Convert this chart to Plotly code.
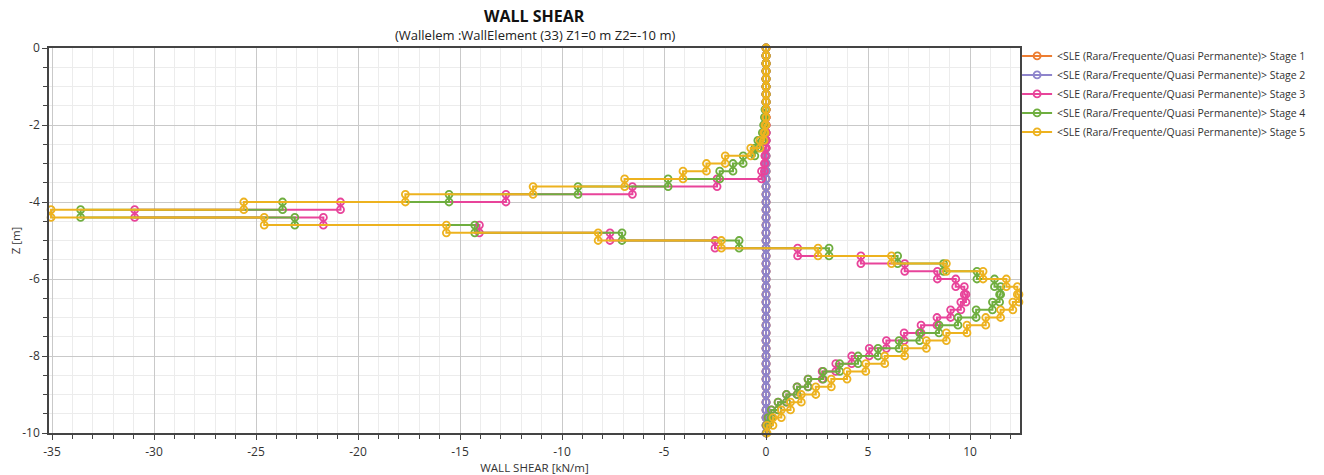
import plotly.graph_objects as go

# Element boundaries (z, m): element k spans Z_NODES[k] -> Z_NODES[k+1]
Z_NODES = [0.0, -0.2, -0.4, -0.6, -0.8, -1.0, -1.2, -1.4, -1.6, -1.8,
           -2.0, -2.2, -2.4, -2.6, -2.8, -3.0, -3.2, -3.4, -3.6, -3.8,
           -4.0, -4.2, -4.4, -4.6, -4.8, -5.0, -5.2, -5.4, -5.6, -5.8,
           -6.0, -6.2, -6.4, -6.6, -6.8, -7.0, -7.2, -7.4, -7.6, -7.8,
           -8.0, -8.2, -8.4, -8.6, -8.8, -9.0, -9.2, -9.4, -9.6, -9.8, -10.0]

# Wall shear per element [kN/m]
STAGE1 = [0.0] * 50
STAGE2 = [0.0] * 50
STAGE3 = [0, 0, 0, 0, 0, 0, 0, 0, 0, 0,
          0, 0, 0, -0.05, -0.05, -0.08, -0.22, -2.4, -6.55, -12.75,
          -20.86, -30.95, -21.7, -14.05, -7.65, -2.5, 1.55, 4.65, 6.8, 8.4,
          9.3, 9.72, 9.8, 9.55, 9.05, 8.38, 7.6, 6.77, 5.9, 5.06,
          4.2, 3.42, 2.75, 2.06, 1.52, 1.0, 0.59, 0.26, 0.1, 0.02]
STAGE4 = [0, 0, 0, 0, 0, 0, 0, 0, -0.05, -0.08,
          -0.12, -0.18, -0.4, -0.55, -1.12, -1.62, -2.27, -4.8, -9.22, -15.54,
          -23.7, -33.6, -23.1, -14.28, -7.06, -1.32, 3.09, 6.45, 8.7, 10.34,
          11.2, 11.5, 11.45, 11.1, 10.3, 9.41, 8.48, 7.53, 6.52, 5.49,
          4.51, 3.61, 2.8, 2.06, 1.52, 1.0, 0.59, 0.26, 0.1, 0.02]
STAGE5 = [0, 0, 0, 0, 0, 0, 0, 0, 0, 0,
          -0.05, -0.1, -0.3, -0.75, -2.0, -2.92, -4.07, -6.93, -11.42, -17.68,
          -25.6, -35.05, -24.6, -15.67, -8.23, -2.19, 2.55, 6.15, 8.84, 10.64,
          11.78, 12.32, 12.4, 12.1, 11.5, 10.77, 9.85, 8.84, 7.86, 6.8,
          5.82, 4.89, 3.97, 3.2, 2.44, 1.73, 1.2, 0.75, 0.34, 0.05]

SERIES_NAMES = ["&lt;SLE (Rara/Frequente/Quasi Permanente)&gt; Stage 1",
                "&lt;SLE (Rara/Frequente/Quasi Permanente)&gt; Stage 2",
                "&lt;SLE (Rara/Frequente/Quasi Permanente)&gt; Stage 3",
                "&lt;SLE (Rara/Frequente/Quasi Permanente)&gt; Stage 4",
                "&lt;SLE (Rara/Frequente/Quasi Permanente)&gt; Stage 5"]
COLORS = ["#ED7D31", "#8E84CC", "#E8449A", "#6FAE3F", "#EDB21F"]

X_TICKS = [-35, -30, -25, -20, -15, -10, -5, 0, 5, 10]
Y_TICKS = [0, -2, -4, -6, -8, -10]


def step_xy(values):
    xs, zs = [], []
    for k, v in enumerate(values):
        xs += [v, v]
        zs += [Z_NODES[k], Z_NODES[k + 1]]
    return xs, zs


FONT = "Open Sans"
fig = go.Figure()
for vals, name, col in zip([STAGE1, STAGE2, STAGE3, STAGE4, STAGE5], SERIES_NAMES, COLORS):
    xs, zs = step_xy(vals)
    fig.add_trace(go.Scatter(
        x=xs, y=zs, mode="lines+markers", name=name,
        line=dict(color=col, width=2),
        marker=dict(symbol="circle-open", size=7, color=col, line=dict(width=1.8, color=col)),
        cliponaxis=False,
    ))

# the page body adds an 8px offset, so the figure is sized/placed to compensate
fig.update_layout(
    width=1316, height=467,
    margin=dict(l=41, r=304, t=40, b=42, autoexpand=False),
    paper_bgcolor="white", plot_bgcolor="white",
    font=dict(family=FONT, size=12, color="#333333"),
    showlegend=True,
    legend=dict(x=0.997, y=1.017, xanchor="left", yanchor="top",
                font=dict(family=FONT, size=10.5, color="#333333"),
                itemwidth=30, bgcolor="rgba(0,0,0,0)"),
    annotations=[
        dict(text="<b>WALL SHEAR</b>", x=0.5, y=1.083, xref="paper", yref="paper",
             xanchor="center", yanchor="middle", showarrow=False,
             font=dict(family=FONT, size=16, color="#111111")),
        dict(text="(Wallelem :WallElement (33) Z1=0 m Z2=-10 m)", x=0.5, y=1.034,
             xref="paper", yref="paper", xanchor="center", yanchor="middle",
             showarrow=False, font=dict(family=FONT, size=13, color="#222222")),
    ],
)

fig.update_xaxes(
    range=[-35.15, 12.45], tickvals=X_TICKS, ticktext=[str(t) for t in X_TICKS],
    automargin=False,
    showgrid=True, gridcolor="#c9c9c9", gridwidth=1, zeroline=False,
    showline=True, linecolor="#444444", linewidth=1.5, mirror=True,
    ticks="outside", ticklen=5, tickcolor="#444444",
    tickfont=dict(size=12, color="#333333"), ticklabelstandoff=2,
    minor=dict(dtick=1, showgrid=True, gridcolor="#ececec", ticks="outside", ticklen=4, tickcolor="#444444"),
    title=dict(text="WALL SHEAR [kN/m]", font=dict(size=11.5, color="#333333"), standoff=2),
)
fig.update_yaxes(
    range=[-10, 0], tickvals=Y_TICKS, ticktext=[str(t) for t in Y_TICKS],
    automargin=False,
    showgrid=True, gridcolor="#c9c9c9", gridwidth=1, zeroline=False,
    showline=True, linecolor="#444444", linewidth=1.5, mirror=True,
    ticks="outside", ticklen=5, tickcolor="#444444",
    tickfont=dict(size=12, color="#333333"),
    minor=dict(dtick=0.5, showgrid=True, gridcolor="#ececec", ticks="outside", ticklen=4, tickcolor="#444444"),
    title=dict(text="Z [m]", font=dict(size=11.5, color="#333333"), standoff=3),
)

fig.write_html("out.html")
